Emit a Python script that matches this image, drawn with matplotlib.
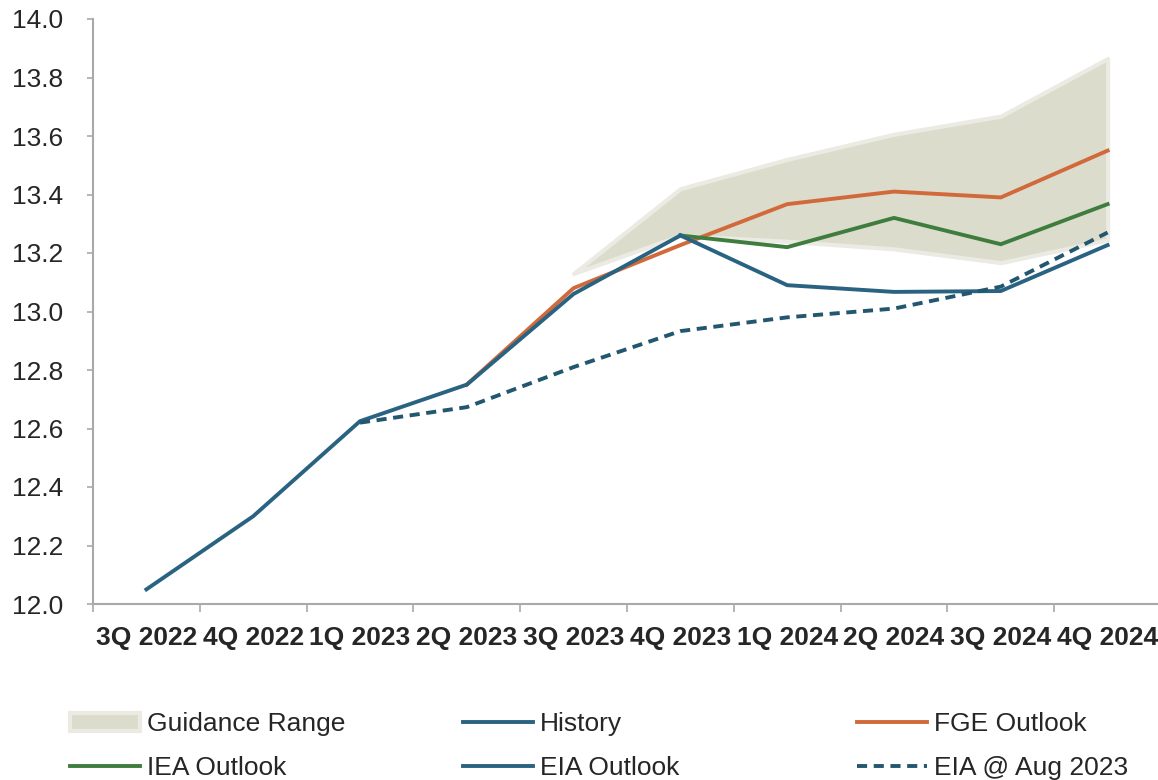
import matplotlib
matplotlib.use("Agg")
import matplotlib.pyplot as plt
from matplotlib.patches import Patch
from matplotlib.lines import Line2D
import numpy as np

categories = ["3Q 2022", "4Q 2022", "1Q 2023", "2Q 2023", "3Q 2023",
              "4Q 2023", "1Q 2024", "2Q 2024", "3Q 2024", "4Q 2024"]

history = [12.05, 12.30, 12.625, 12.75, 13.06, 13.26, None, None, None, None]
fge = [None, None, None, 12.75, 13.08, 13.227, 13.367, 13.41, 13.39, 13.55]
iea = [None, None, None, None, None, 13.26, 13.22, 13.32, 13.23, 13.367]
eia = [None, None, None, None, None, 13.26, 13.09, 13.067, 13.07, 13.227]
eia_aug = [None, None, 12.62, 12.673, 12.81, 12.933, 12.98, 13.01, 13.085, 13.27]
guid_low = [None, None, None, None, 13.13, 13.26, 13.24, 13.214, 13.167, 13.245]
guid_high = [None, None, None, None, 13.13, 13.42, 13.52, 13.606, 13.668, 13.865]

yticks = [12.0, 12.2, 12.4, 12.6, 12.8, 13.0, 13.2, 13.4, 13.6, 13.8, 14.0]

C_BLUE = "#2a6382"
C_ORANGE = "#d2693a"
C_GREEN = "#3f7d3f"
C_DASH = "#22576f"
C_FILL = "#dcdccd"
C_EDGE = "#ebebe3"
C_AXIS = "#a9a9a9"
C_TEXT = "#262626"

FS = 19

plt.rcParams['font.family'] = ['Liberation Sans', 'DejaVu Sans']

fig = plt.figure(figsize=(11.58, 7.8), dpi=100)
ax = fig.add_axes([93/1158, 1 - 604/780, 1068/1158, (604 - 19)/780])

x = np.arange(len(categories))


def series(vals):
    xs = [xi for xi, v in zip(x, vals) if v is not None]
    ys = [v for v in vals if v is not None]
    return np.array(xs), np.array(ys)


gx, gl = series(guid_low)
_, gh = series(guid_high)
ax.fill_between(gx, gl, gh, facecolor=C_FILL, edgecolor=C_EDGE, linewidth=3, zorder=1)

lw = 2.8
DASH = (0, (2.6, 1.7))
fx, fy = series(fge)
ax.plot(fx, fy, color=C_ORANGE, lw=lw, zorder=3, solid_joinstyle='miter')
hx, hy = series(history)
ax.plot(hx, hy, color=C_BLUE, lw=lw, zorder=4, solid_joinstyle='miter')
ix, iy = series(iea)
ax.plot(ix, iy, color=C_GREEN, lw=lw, zorder=3, solid_joinstyle='miter')
ex, ey = series(eia)
ax.plot(ex, ey, color=C_BLUE, lw=lw, zorder=5, solid_joinstyle='miter')
dx, dy = series(eia_aug)
ax.plot(dx, dy, color=C_DASH, lw=lw, ls=DASH, zorder=6)

ax.set_xlim(-0.5, len(categories) - 0.5)
ax.set_ylim(12.0, 14.0)

for s in ["top", "right"]:
    ax.spines[s].set_visible(False)
for s in ["left", "bottom"]:
    ax.spines[s].set_color(C_AXIS)
    ax.spines[s].set_linewidth(1.5)

ax.set_yticks(yticks)
ax.set_yticklabels([f"{v:.1f}" for v in yticks])
ax.tick_params(axis='y', direction='out', length=4.5, width=1.2, color=C_AXIS,
               labelsize=FS, labelcolor=C_TEXT, pad=17)

ax.set_xticks(x)
ax.set_xticklabels(categories, fontweight='bold')
ax.tick_params(axis='x', which='major', length=0, labelsize=FS, labelcolor=C_TEXT, pad=15.5)
ax.set_xticks(np.arange(len(categories) + 1) - 0.5, minor=True)
ax.tick_params(axis='x', which='minor', direction='out', length=5.5, width=1.2, color=C_AXIS)

# Legend: three columns placed separately
h_guid = Patch(facecolor=C_FILL, edgecolor=C_EDGE, linewidth=3)
h_hist = Line2D([], [], color=C_BLUE, lw=lw)
h_fge = Line2D([], [], color=C_ORANGE, lw=lw)
h_iea = Line2D([], [], color=C_GREEN, lw=lw)
h_eia = Line2D([], [], color=C_BLUE, lw=lw)
h_aug = Line2D([], [], color=C_DASH, lw=lw, ls=DASH)

cols = [
    ([h_guid, h_iea], ["Guidance Range", "IEA Outlook"], 70),
    ([h_hist, h_eia], ["History", "EIA Outlook"], 463),
    ([h_fge, h_aug], ["FGE Outlook", "EIA @ Aug 2023"], 857),
]
for handles, labels, xpx in cols:
    leg = fig.legend(handles, labels, loc='upper left',
                     bbox_to_anchor=(xpx / 1158, 1 - 712 / 780),
                     frameon=False, fontsize=FS, handlelength=2.65,
                     handletextpad=0.28, labelspacing=0.77, borderpad=0,
                     borderaxespad=0)
    for t in leg.get_texts():
        t.set_color(C_TEXT)

fig.savefig("out.png", dpi=100)
